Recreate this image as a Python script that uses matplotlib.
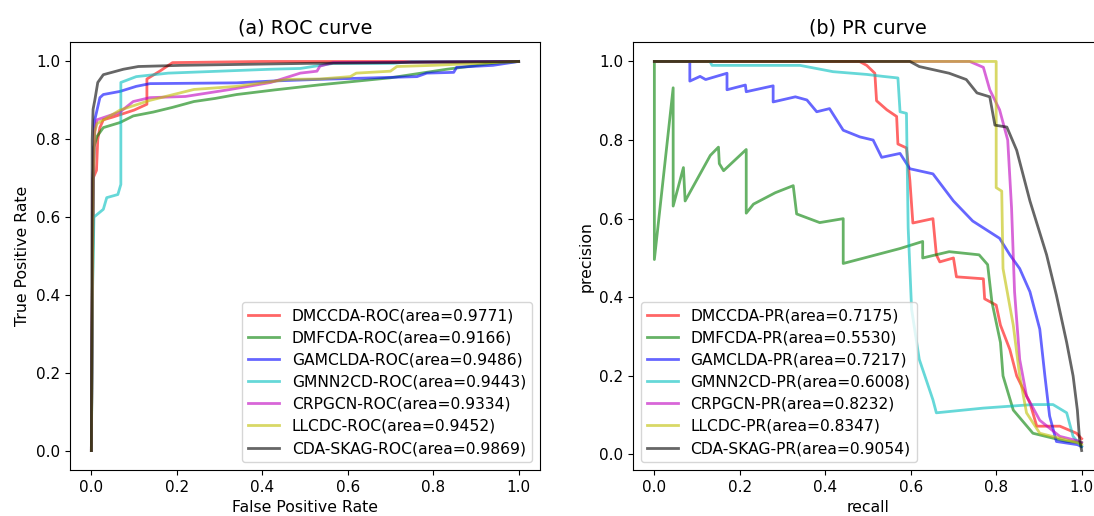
import matplotlib
matplotlib.use('Agg')
import matplotlib.pyplot as plt

# Method names and their areas
methods = ['DMCCDA', 'DMFCDA', 'GAMCLDA', 'GMNN2CD', 'CRPGCN', 'LLCDC', 'CDA-SKAG']
roc_area = ['0.9771', '0.9166', '0.9486', '0.9443', '0.9334', '0.9452', '0.9869']
pr_area = ['0.7175', '0.5530', '0.7217', '0.6008', '0.8232', '0.8347', '0.9054']
colors = ['r', 'g', 'b', 'c', 'm', 'y', 'k']

# ROC curve points (false positive rate, true positive rate)
roc_x_dmccda = [0, 0.004, 0.012, 0.015, 0.02, 0.028, 0.05, 0.1, 0.13, 0.13, 0.16, 0.19, 0.4, 1.0]
roc_y_dmccda = [0, 0.7, 0.72, 0.8, 0.83, 0.85, 0.857, 0.875, 0.89, 0.955, 0.975, 0.997, 1.0, 1.0]

roc_x_dmfcda = [0, 0.003, 0.006, 0.013, 0.028, 0.067, 0.098, 0.145, 0.19, 0.24, 0.29, 0.34, 0.43, 0.535, 0.7,
                0.832, 0.94, 1.0]
roc_y_dmfcda = [0, 0.45, 0.78, 0.807, 0.83, 0.843, 0.86, 0.87, 0.882, 0.897, 0.905, 0.915, 0.927, 0.94, 0.958,
                0.98, 0.995, 1.0]

roc_x_gamclda = [0, 0.004, 0.008, 0.02, 0.028, 0.067, 0.105, 0.137, 0.34, 0.43, 0.535, 0.762, 0.785, 0.848,
                 0.855, 0.94, 1.0]
roc_y_gamclda = [0, 0.7, 0.85, 0.907, 0.915, 0.923, 0.936, 0.943, 0.945, 0.95, 0.954, 0.961, 0.97, 0.972,
                 0.985, 0.99, 1.0]

roc_x_gmnn2cd = [0, 0.003, 0.006, 0.028, 0.036, 0.062, 0.069, 0.069, 0.105, 0.18, 0.30, 0.42, 0.489, 0.566,
                 0.707, 0.75, 1.0]
roc_y_gmnn2cd = [0, 0.42, 0.6, 0.62, 0.65, 0.658, 0.684, 0.946, 0.961, 0.97, 0.975, 0.98, 0.982, 0.995,
                 0.995, 1.0, 1.0]

roc_x_crpgcn = [0, 0.004, 0.008, 0.013, 0.067, 0.098, 0.137, 0.22, 0.325, 0.42, 0.489, 0.528, 0.535, 0.566, 1.0]
roc_y_crpgcn = [0, 0.7, 0.82, 0.85, 0.87, 0.897, 0.907, 0.91, 0.928, 0.946, 0.97, 0.975, 0.988, 0.997, 1.0]

roc_x_llcdc = [0, 0.004, 0.008, 0.013, 0.067, 0.137, 0.24, 0.34, 0.46, 0.535, 0.606, 0.62, 0.70, 0.715, 0.8,
               0.94, 1.0]
roc_y_llcdc = [0, 0.7, 0.82, 0.84, 0.875, 0.9, 0.928, 0.936, 0.954, 0.955, 0.961, 0.97, 0.975, 0.987, 0.99,
               0.997, 1.0]

roc_x_skag = [0, 0.002, 0.004, 0.008, 0.015, 0.028, 0.075, 0.11, 0.21, 0.5, 1.0]
roc_y_skag = [0, 0.8, 0.877, 0.9, 0.946, 0.966, 0.98, 0.987, 0.99, 0.995, 1.0]

# PR curve points (recall, precision)
pr_x_dmccda = [0, 0.48, 0.497, 0.516, 0.52, 0.544, 0.567, 0.57, 0.59, 0.598, 0.605, 0.652, 0.66, 0.668, 0.70,
               0.707, 0.77, 0.773, 0.80, 0.81, 0.832, 0.848, 0.879, 0.895, 0.949, 0.988, 1.0]
pr_y_dmccda = [1.0, 1.0, 0.99, 0.97, 0.90, 0.877, 0.86, 0.79, 0.78, 0.697, 0.589, 0.60, 0.508, 0.49, 0.5,
               0.452, 0.447, 0.396, 0.38, 0.329, 0.267, 0.2, 0.131, 0.072, 0.072, 0.054, 0.04]

pr_x_dmfcda = [0, 0, 0.044, 0.044, 0.068, 0.072, 0.131, 0.15, 0.152, 0.162, 0.215, 0.215, 0.232, 0.283, 0.325,
               0.333, 0.387, 0.442, 0.442, 0.575, 0.628, 0.628, 0.69, 0.76, 0.78, 0.79, 0.81, 0.816, 0.84,
               0.886, 0.965, 1.0]
pr_y_dmfcda = [1.0, 0.496, 0.933, 0.632, 0.73, 0.645, 0.761, 0.782, 0.74, 0.722, 0.776, 0.614, 0.637, 0.666, 0.684,
               0.612, 0.59, 0.60, 0.486, 0.524, 0.542, 0.5, 0.516, 0.508, 0.483, 0.388, 0.285, 0.2, 0.113,
               0.054, 0.033, 0.03]

pr_x_gamclda = [0, 0.083, 0.083, 0.107, 0.12, 0.17, 0.17, 0.213, 0.215, 0.278, 0.278, 0.33, 0.357, 0.38, 0.41,
                0.442, 0.481, 0.512, 0.532, 0.575, 0.598, 0.652, 0.70, 0.745, 0.808, 0.832, 0.855, 0.879,
                0.902, 0.914, 0.925, 0.941, 0.99, 1.0]
pr_y_gamclda = [1.0, 1.0, 0.95, 0.962, 0.954, 0.97, 0.928, 0.94, 0.923, 0.938, 0.897, 0.91, 0.902, 0.872, 0.88,
                0.825, 0.808, 0.8, 0.756, 0.766, 0.727, 0.714, 0.645, 0.594, 0.55, 0.508, 0.473, 0.414,
                0.319, 0.2, 0.098, 0.033, 0.025, 0.02]

pr_x_gmnn2cd = [0, 0.13, 0.135, 0.341, 0.418, 0.497, 0.535, 0.57, 0.575, 0.59, 0.594, 0.602, 0.62, 0.652, 0.66,
                0.77, 0.886, 0.933, 0.965, 0.98, 1.0]
pr_y_gmnn2cd = [1.0, 1.0, 0.99, 0.99, 0.974, 0.967, 0.962, 0.958, 0.872, 0.868, 0.577, 0.37, 0.242, 0.139, 0.106,
                0.118, 0.127, 0.127, 0.106, 0.046, 0.02]

pr_x_crpgcn = [0, 0.738, 0.77, 0.785, 0.808, 0.827, 0.836, 0.843, 0.855, 0.871, 0.902, 0.949, 0.99, 1.0]
pr_y_crpgcn = [1.0, 1.0, 0.985, 0.928, 0.877, 0.8, 0.627, 0.414, 0.242, 0.149, 0.087, 0.046, 0.035, 0.03]

pr_x_llcdc = [0, 0.80, 0.80, 0.813, 0.816, 0.84, 0.855, 0.871, 0.902, 0.99, 1.0]
pr_y_llcdc = [1.0, 1.0, 0.679, 0.67, 0.473, 0.329, 0.2, 0.106, 0.054, 0.03, 0.025]

pr_x_skag = [0, 0.598, 0.62, 0.69, 0.73, 0.755, 0.785, 0.797, 0.825, 0.848, 0.879, 0.918, 0.941, 0.965, 0.98,
             0.99, 0.995, 1.0]
pr_y_skag = [1.0, 1.0, 0.987, 0.97, 0.954, 0.92, 0.91, 0.838, 0.833, 0.774, 0.645, 0.508, 0.405, 0.285, 0.2,
             0.113, 0.04, 0.01]

roc_x = [roc_x_dmccda, roc_x_dmfcda, roc_x_gamclda, roc_x_gmnn2cd, roc_x_crpgcn, roc_x_llcdc, roc_x_skag]
roc_y = [roc_y_dmccda, roc_y_dmfcda, roc_y_gamclda, roc_y_gmnn2cd, roc_y_crpgcn, roc_y_llcdc, roc_y_skag]
pr_x = [pr_x_dmccda, pr_x_dmfcda, pr_x_gamclda, pr_x_gmnn2cd, pr_x_crpgcn, pr_x_llcdc, pr_x_skag]
pr_y = [pr_y_dmccda, pr_y_dmfcda, pr_y_gamclda, pr_y_gmnn2cd, pr_y_crpgcn, pr_y_llcdc, pr_y_skag]

plt.rcParams['font.size'] = 11
plt.rcParams['axes.labelsize'] = 11.3

fig = plt.figure(figsize=(10.94, 5.16), dpi=100)
ax1 = fig.add_axes([70 / 1094, 46 / 516, 470 / 1094, 428 / 516])
ax2 = fig.add_axes([633 / 1094, 46 / 516, 470 / 1094, 428 / 516])

# (a) ROC curve
for i in range(len(methods)):
    ax1.plot(roc_x[i], roc_y[i], color=colors[i], alpha=0.6, lw=2,
             label=methods[i] + '-ROC(area=' + roc_area[i] + ')')
ax1.set_title('(a) ROC curve', fontsize=13.8)
ax1.set_xlabel('False Positive Rate')
ax1.set_ylabel('True Positive Rate')
ax1.legend(loc='lower right', fontsize=11.2, labelspacing=0.46)

# (b) PR curve
for i in range(len(methods)):
    ax2.plot(pr_x[i], pr_y[i], color=colors[i], alpha=0.6, lw=2,
             label=methods[i] + '-PR(area=' + pr_area[i] + ')')
ax2.set_title('(b) PR curve', fontsize=13.8)
ax2.set_xlabel('recall')
ax2.set_ylabel('precision')
ax2.legend(loc='lower left', fontsize=11.2, labelspacing=0.46)

for ax in [ax1, ax2]:
    ax.set_xticks([0.0, 0.2, 0.4, 0.6, 0.8, 1.0])
    ax.set_yticks([0.0, 0.2, 0.4, 0.6, 0.8, 1.0])

fig.savefig('out.png', dpi=100)
